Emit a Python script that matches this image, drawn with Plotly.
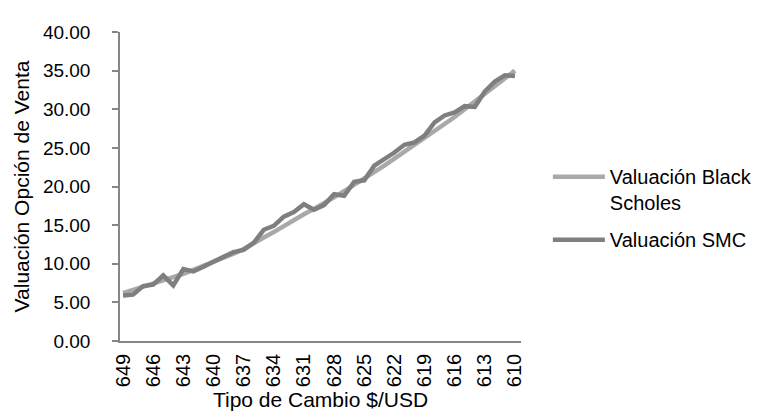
import plotly.graph_objects as go

tipo_cambio = [str(v) for v in [649, 648, 647, 646, 645, 644, 643, 642, 641, 640,
                                 639, 638, 637, 636, 635, 634, 633, 632, 631, 630,
                                 629, 628, 627, 626, 625, 624, 623, 622, 621, 620,
                                 619, 618, 617, 616, 615, 614, 613, 612, 611, 610]]

black_scholes = [6.2, 6.6, 7.0, 7.4, 7.8, 8.3, 8.7, 9.2, 9.7, 10.2,
                 10.7, 11.3, 11.9, 12.7, 13.4, 14.1, 14.9, 15.6, 16.4, 17.1,
                 17.8, 18.6, 19.4, 20.2, 21.0, 21.8, 22.7, 23.6, 24.5, 25.3,
                 26.2, 27.1, 28.0, 29.0, 30.0, 31.0, 32.0, 33.0, 34.0, 35.0]

smc = [5.9, 6.0, 7.1, 7.3, 8.5, 7.2, 9.3, 9.0, 9.6, 10.3,
       10.9, 11.5, 11.8, 12.7, 14.4, 14.9, 16.1, 16.7, 17.7, 17.0,
       17.6, 19.0, 18.8, 20.6, 20.8, 22.7, 23.5, 24.4, 25.4, 25.7,
       26.6, 28.3, 29.2, 29.6, 30.4, 30.3, 32.3, 33.6, 34.4, 34.3]

tick_labels = tipo_cambio[::3]
y_ticks = [0, 5, 10, 15, 20, 25, 30, 35, 40]

FONT = "Liberation Sans, Arial, sans-serif"
AXIS_COLOR = "#868686"

fig = go.Figure()
fig.add_trace(go.Scatter(x=tipo_cambio, y=black_scholes, mode="lines",
                         name="Valuación Black<br>Scholes", legendgroup="bs",
                         line=dict(color="#A9A9A9", width=4.5)))
fig.add_trace(go.Scatter(x=tipo_cambio, y=smc, mode="lines",
                         name="Valuación SMC", legendgroup="smc",
                         line=dict(color="#7F7F7F", width=4.5)))

fig.update_layout(
    width=765, height=412,
    margin=dict(l=110, r=252, t=24, b=79),
    paper_bgcolor="white", plot_bgcolor="white",
    font=dict(family=FONT, size=20, color="#000000"),
    hovermode=False,
    legend=dict(x=1.067, y=0.595, xanchor="left", yanchor="top",
                valign="top", traceorder="grouped",
                font=dict(family=FONT, size=20, color="#000000"),
                bgcolor="rgba(0,0,0,0)", tracegroupgap=8, itemwidth=52),
    xaxis=dict(
        type="category", range=[-0.3, 39.6],
        tickmode="array", tickvals=tick_labels, ticktext=tick_labels,
        tickangle=-90, showgrid=False, zeroline=False,
        showline=True, linecolor=AXIS_COLOR, linewidth=1.5,
        ticks="", ticklabelstandoff=3,
        tickfont=dict(family=FONT, size=20, color="#000000"),
        title=dict(text="Tipo de Cambio $/USD", standoff=6,
                   font=dict(family=FONT, size=21, color="#000000")),
    ),
    yaxis=dict(
        range=[0, 40], tickmode="array", tickvals=y_ticks,
        ticktext=[f"{v:.2f}" for v in y_ticks],
        showgrid=False, zeroline=False,
        showline=True, linecolor=AXIS_COLOR, linewidth=1.5,
        ticks="outside", ticklen=6, tickcolor=AXIS_COLOR, tickwidth=1.5,
        ticklabelstandoff=18,
        tickfont=dict(family=FONT, size=19, color="#000000"),
        title=dict(text="Valuación Opción de Venta", standoff=8,
                   font=dict(family=FONT, size=21, color="#000000")),
    ),
)

fig.write_html("out.html")
